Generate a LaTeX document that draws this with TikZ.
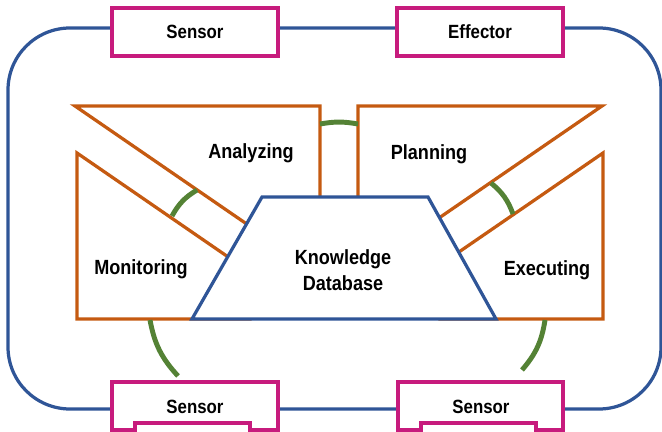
\documentclass[tikz,border=0pt]{standalone}
\usepackage{fontspec}
\setmainfont[FakeStretch=0.88]{Liberation Sans}
\definecolor{loopblue}{RGB}{47,85,151}
\definecolor{phaseorange}{RGB}{197,90,17}
\definecolor{linkgreen}{RGB}{84,130,53}
\definecolor{sensorpink}{RGB}{199,27,125}
\newcommand{\phasefont}{\fontsize{14.6}{18.4}\selectfont\bfseries}
\newcommand{\sensorfont}{\fontsize{13.6}{15}\selectfont\bfseries}
\tikzset{
	loopline/.style={draw=loopblue, line width=2.3pt},
	phase/.style={draw=phaseorange, line width=2.3pt},
	sensorline/.style={draw=sensorpink, line width=2.3pt, fill=white},
	sensorbox/.style={sensorline, minimum width=4.15cm, minimum height=1.2cm, inner sep=0pt, font=\sensorfont},
	link/.style={draw=linkgreen, line width=3.5pt},
	phaselabel/.style={font=\phasefont, anchor=base}
}
\begin{document}
\begin{tikzpicture}[x=0.025cm,y=-0.025cm]
	\useasboundingbox (0,0) rectangle (662,432);
	%outer loop
	\draw[loopline, rounded corners=1.55cm] (8,28) rectangle (661,409);

	\node[sensorbox] (sensortop) at (195,32) {Sensor};
	\node[sensorbox] (effector) at (480,32) {Effector};
	\draw[sensorline] (112,382) -- (278,382) -- (278,430) -- (250,430) -- (250,423) -- (135,423) -- (135,430) -- (112,430) -- cycle;
	\draw[sensorline] (398,382) -- (563,382) -- (563,430) -- (536,430) -- (536,423) -- (421,423) -- (421,430) -- (398,430) -- cycle;
	\node[font=\sensorfont, anchor=base] (sensorleft) at (195,413) {Sensor};
	\node[font=\sensorfont, anchor=base] (sensorright) at (481,413) {Sensor};

	%MAPE phases
	\draw[phase] (75,106) -- (320,106) -- (320,240) -- (270,240) -- cycle;
	\draw[phase] (602,106) -- (358,106) -- (358,240) -- (407,240) -- cycle;
	\draw[phase] (77,153) -- (250,272) -- (250,319) -- (77,319) -- cycle;
	\draw[phase] (603,153) -- (440,265) -- (440,319) -- (603,319) -- cycle;

	%knowledge
	\draw[loopline, fill=white] (262,197) -- (428,197) -- (496,319) -- (192,319) -- cycle;

	\coordinate (analyzetop) at (320,124);
	\coordinate (plantop) at (358,124);
	\coordinate (analyzeslant) at (197,190);
	\coordinate (monitorslant) at (172,216);
	\coordinate (planslant) at (491,183);
	\coordinate (executeslant) at (513,214);
	\coordinate (monitorfoot) at (150,320);
	\coordinate (sensorleftin) at (178,376);
	\coordinate (executefoot) at (545,320);
	\coordinate (sensorrightin) at (522,370);
	\draw[link] (analyzetop) to[bend left=10] (plantop);
	\draw[link] (analyzeslant) to[bend right=15] (monitorslant);
	\draw[link] (planslant) to[bend left=15] (executeslant);
	\draw[link] (monitorfoot) to[bend right=16] (sensorleftin);
	\draw[link] (executefoot) to[bend left=16] (sensorrightin);

	\node[phaselabel] (analyzing) at (251,159) {Analyzing};
	\node[phaselabel] (planning) at (429,160) {Planning};
	\node[phaselabel] (monitoring) at (141,274) {Monitoring};
	\node[phaselabel] (executing) at (547,275) {Executing};
	\node[font=\phasefont, align=center] (knowledge) at (343,270) {Knowledge\\Database};
\end{tikzpicture}
\end{document}
